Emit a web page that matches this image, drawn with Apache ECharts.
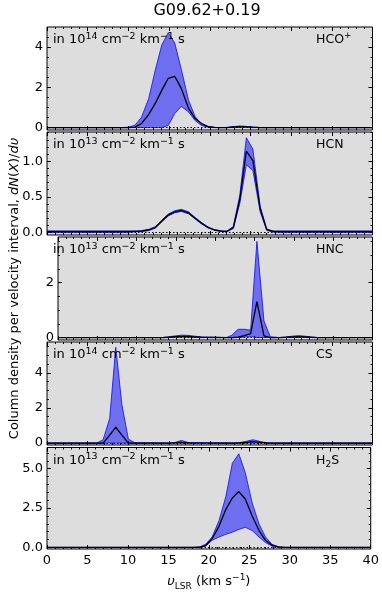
<!DOCTYPE html>
<html><head><meta charset="utf-8">
<script src="https://cdn.jsdelivr.net/npm/echarts@6/dist/echarts.min.js"></script>
<style>html,body{margin:0;padding:0;background:#fff}#c{width:382px;height:592px}</style>
</head><body><div id="c"></div>
<script>
// ---- data ----
const chartTitle = 'G09.62+0.19';
const molecules = ['HCO+', 'HCN', 'HNC', 'CS', 'H2S'];
const unitExp = ['14', '13', '13', '14', '13'];
const xTickLabels = [0, 5, 10, 15, 20, 25, 30, 35, 40];

const v1 = [0, 9.2, 10.0, 10.8, 11.6, 12.5, 13.3, 14.1, 14.9, 15.7, 16.5, 17.4, 18.2, 19.0, 19.8, 20.6, 21.4, 22.1, 22.9, 23.7, 24.5, 25.3, 26.2, 40];
const med1 = [0, 0, 0, 0.02, 0.2, 0.65, 1.2, 1.85, 2.45, 2.55, 1.95, 0.95, 0.45, 0.2, 0.05, 0.01, 0, 0, 0.03, 0.05, 0.04, 0.02, 0, 0];
const up1 = [0, 0, 0.02, 0.12, 0.5, 1.45, 2.85, 4.1, 4.72, 4.2, 2.9, 1.35, 0.55, 0.17, 0.04, 0.01, 0, 0.01, 0.05, 0.08, 0.06, 0.02, 0, 0];
const lo1 = [0, 0, 0, 0, 0, 0, 0, 0, 0.1, 0.7, 1.05, 0.78, 0.35, 0.1, 0.02, 0, 0, 0, 0.01, 0.02, 0.02, 0, 0, 0];

const v2 = [0, 10.0, 10.8, 11.6, 12.5, 13.3, 14.1, 14.9, 15.7, 16.5, 17.4, 18.2, 19.0, 19.8, 20.6, 21.4, 22.1, 22.9, 23.7, 24.5, 25.3, 26.2, 27.0, 27.8, 28.6, 40];
const med2 = [0.015, 0.015, 0.017, 0.02, 0.035, 0.07, 0.16, 0.245, 0.29, 0.31, 0.275, 0.2, 0.13, 0.07, 0.035, 0.02, 0.015, 0.07, 0.47, 1.14, 1.01, 0.33, 0.04, 0.015, 0.015, 0.015];
const up2 = [0.02, 0.02, 0.022, 0.027, 0.045, 0.082, 0.172, 0.258, 0.305, 0.325, 0.29, 0.212, 0.14, 0.078, 0.04, 0.024, 0.02, 0.085, 0.53, 1.33, 1.17, 0.37, 0.05, 0.02, 0.02, 0.02];
const lo2 = [0, 0, 0.01, 0.013, 0.027, 0.06, 0.148, 0.232, 0.277, 0.295, 0.262, 0.19, 0.12, 0.063, 0.03, 0.015, 0.01, 0.055, 0.41, 0.95, 0.87, 0.29, 0.03, 0.005, 0, 0];

const v3 = [0, 13.3, 14.1, 14.9, 15.7, 16.5, 17.4, 18.2, 21.4, 22.1, 22.9, 23.7, 24.5, 25.3, 26.2, 27.0, 28.2, 29.0, 29.8, 30.6, 31.4, 32.2, 33.0, 40];
const med3 = [0, 0, 0.01, 0.03, 0.04, 0.04, 0.025, 0.01, 0, 0, 0.01, 0.07, 0.14, 1.31, 0.06, 0, 0, 0.01, 0.025, 0.035, 0.025, 0.01, 0, 0];
const up3 = [0, 0, 0.03, 0.06, 0.085, 0.08, 0.05, 0.02, 0, 0.08, 0.3, 0.3, 0.27, 3.5, 0.6, 0.03, 0, 0.02, 0.05, 0.07, 0.05, 0.02, 0, 0];
const lo3 = [0, 0, 0, 0.005, 0.01, 0.01, 0.005, 0, 0, 0, 0.005, 0.02, 0.03, 0, 0, 0, 0, 0, 0.005, 0.01, 0.005, 0, 0, 0];

const v4 = [0, 6.1, 6.9, 7.7, 8.45, 9.2, 10.0, 10.8, 14.9, 15.7, 16.5, 17.4, 22.9, 23.7, 24.5, 25.3, 26.2, 27.0, 27.8, 40];
const med4 = [0, 0, 0, 0.45, 0.9, 0.45, 0, 0, 0, 0.01, 0.04, 0.01, 0, 0.01, 0.04, 0.08, 0.04, 0.01, 0, 0];
const up4 = [0, 0, 0.19, 1.4, 5.45, 2.2, 0.22, 0.02, 0, 0.03, 0.15, 0.03, 0, 0.03, 0.1, 0.19, 0.09, 0.02, 0, 0];
const lo4 = [0, 0, 0, 0, 0, 0, 0, 0, 0, 0, 0, 0, 0, 0, 0, 0, 0, 0, 0, 0];

const v5 = [0, 18.0, 18.8, 19.6, 20.4, 21.25, 22.1, 22.9, 23.7, 24.5, 25.35, 26.2, 27.0, 27.8, 28.6, 29.4, 40];
const med5 = [0, 0, 0.01, 0.12, 0.56, 1.34, 2.42, 3.14, 3.55, 3.08, 2.0, 1.07, 0.45, 0.14, 0.03, 0, 0];
const up5 = [0, 0, 0.02, 0.2, 0.66, 1.7, 3.24, 5.35, 5.95, 4.75, 2.83, 1.49, 0.66, 0.2, 0.04, 0, 0];
const lo5 = [0, 0, 0, 0.08, 0.45, 0.66, 0.83, 0.97, 1.14, 1.28, 1.07, 0.66, 0.31, 0.08, 0, 0, 0];

// y tick labels (major) and minor tick positions per panel
const yMajor1 = [0, 2, 4];           const yMinor1 = [0.5, 1, 1.5, 2.5, 3, 3.5, 4.5];
const yMajor2 = [0, 0.5, 1.0];       const yMinor2 = [0.1, 0.2, 0.3, 0.4, 0.6, 0.7, 0.8, 0.9, 1.1, 1.2, 1.3, 1.4];
const yMajor3 = [0, 2];              const yMinor3 = [0.5, 1, 1.5, 2.5, 3, 3.5];
const yMajor4 = [0, 2, 4];           const yMinor4 = [0.5, 1, 1.5, 2.5, 3, 3.5, 4.5, 5, 5.5];
const yMajor5 = [0, 2.5, 5.0];       const yMinor5 = [0.5, 1, 1.5, 2, 3, 3.5, 4, 4.5, 5.5, 6];
const yDecimals = [0, 1, 0, 0, 1];
const yMin = [-0.12, -0.035, -0.09, -0.11, -0.1];
const yMax = [5.0, 1.41, 3.66, 5.75, 6.35];

// ---- build ----
const panels = [
  {v: v1, med: med1, up: up1, lo: lo1, maj: yMajor1, min: yMinor1},
  {v: v2, med: med2, up: up2, lo: lo2, maj: yMajor2, min: yMinor2},
  {v: v3, med: med3, up: up3, lo: lo3, maj: yMajor3, min: yMinor3},
  {v: v4, med: med4, up: up4, lo: lo4, maj: yMajor4, min: yMinor4},
  {v: v5, med: med5, up: up5, lo: lo5, maj: yMajor5, min: yMinor5}
];
const FONT = 'DejaVu Sans';
const tops = [27, 132, 237, 342, 447.5];
const H = 103, LEFT = 47, W = 325.5;

const grids = [], xAxes = [], yAxes = [], series = [], graphics = [];
panels.forEach((p, i) => {
  grids.push({left: LEFT, width: W, top: tops[i], height: H, show: true,
    backgroundColor: '#dddddd', borderColor: '#000', borderWidth: 1, z: 0});
  ['bottom', 'top'].forEach(pos => {
    const isLabelled = (pos === 'bottom' && i === 4);
    const ax = {
      gridIndex: i, type: 'value', min: 0, max: 40, interval: 5, position: pos,
      axisLine: {show: false, onZero: false},
      axisTick: {show: true, inside: true, length: 4, lineStyle: {color: '#000', width: 1}},
      minorTick: {show: true, splitNumber: 5, length: 2, lineStyle: {color: '#000', width: 1}},
      splitLine: {show: false}, minorSplitLine: {show: false},
      axisLabel: {show: isLabelled, color: '#000', fontFamily: FONT, fontSize: 13, margin: 5,
        customValues: xTickLabels}
    };
    if (isLabelled) {
      ax.name = '{i|υ}{sb|LSR}{n| (km s}{sp|−1}{n|)}';
      ax.nameLocation = 'middle';
      ax.nameGap = 24;
      ax.nameTextStyle = {color: '#000', fontFamily: FONT, fontSize: 13,
        rich: {
          i: {fontFamily: FONT, fontSize: 13, fontStyle: 'italic', lineHeight: 18, verticalAlign: 'middle', color: '#000'},
          n: {fontFamily: FONT, fontSize: 13, lineHeight: 18, verticalAlign: 'middle', color: '#000'},
          sb: {fontFamily: FONT, fontSize: 9, lineHeight: 9, verticalAlign: 'bottom', color: '#000'},
          sp: {fontFamily: FONT, fontSize: 9, lineHeight: 9, verticalAlign: 'top', color: '#000'}
        }};
    }
    xAxes.push(ax);
  });
  const dec = yDecimals[i];
  ['left', 'right'].forEach(pos => {
    [['maj', 4], ['min', 2]].forEach(([kind, len]) => {
      const vals = p[kind];
      const ax = {
        gridIndex: i, type: 'value', min: yMin[i], max: yMax[i], position: pos,
        axisLine: {show: false, onZero: false},
        axisTick: {show: true, inside: true, length: len, customValues: vals, lineStyle: {color: '#000', width: 1}},
        splitLine: {show: false},
        axisLabel: {show: pos === 'left' && kind === 'maj', customValues: vals, color: '#000',
          fontFamily: FONT, fontSize: 13, margin: 4,
          formatter: v => Number(v).toFixed(dec)}
      };
      if (i === 2 && pos === 'left' && kind === 'maj') {
        ax.name = 'Column density per velocity interval, {i|dN}{n|(}{i|X}{n|)/}{i|dυ}';
        ax.nameLocation = 'middle';
        ax.nameGap = 37;
        ax.nameTextStyle = {color: '#000', fontFamily: FONT, fontSize: 13,
          rich: {
            i: {fontFamily: FONT, fontSize: 13, fontStyle: 'italic', color: '#000'},
            n: {fontFamily: FONT, fontSize: 13, color: '#000'}
          }};
      }
      yAxes.push(ax);
    });
  });
  const xi = 2 * i, yi = 4 * i;
  // shaded band between lower and upper, drawn through the axes' scales
  series.push({
    type: 'custom', xAxisIndex: xi, yAxisIndex: yi, silent: true, z: 2, clip: true,
    data: p.v.map((x, k) => [x, p.lo[k], p.up[k]]),
    encode: {x: 0, y: [1, 2]},
    renderItem: (params, api) => {
      if (params.dataIndex !== 0) return null;
      const pts = [];
      for (let k = 0; k < p.v.length; k++) pts.push(api.coord([p.v[k], p.up[k]]));
      for (let k = p.v.length - 1; k >= 0; k--) pts.push(api.coord([p.v[k], p.lo[k]]));
      return {type: 'polygon', shape: {points: pts},
        style: {fill: 'rgba(0,0,255,0.5)', stroke: 'rgba(0,0,255,0.75)', lineWidth: 1}};
    }
  });
  series.push({
    type: 'line', xAxisIndex: xi, yAxisIndex: yi, symbol: 'none',
    data: p.v.map((x, k) => [x, p.med[k]]),
    lineStyle: {color: '#000', width: 1.3}, z: 4, silent: true,
    markLine: {silent: true, symbol: 'none', label: {show: false},
      lineStyle: {type: [1.5, 2], color: '#000', width: 1}, data: [{yAxis: 0}], z: 3}
  });
  // in-panel texts
  graphics.push({
    type: 'text', x: 53, y: tops[i] + 13, z: 10,
    style: {
      text: '{a|in 10}{s|' + unitExp[i] + '}{a| cm}{s|−2}{a| km}{s|−1}{a| s}',
      align: 'left', verticalAlign: 'middle',
      rich: {
        a: {fontFamily: FONT, fontSize: 13, lineHeight: 17, verticalAlign: 'middle', fill: '#000'},
        s: {fontFamily: FONT, fontSize: 9.5, lineHeight: 9, verticalAlign: 'top', fill: '#000'}
      }
    }
  });
  const m = molecules[i];
  const mt = m === 'HCO+' ? '{a|HCO}{s|+}' : (m === 'H2S' ? '{a|H}{b|2}{a|S}' : '{a|' + m + '}');
  graphics.push({
    type: 'text', x: 316, y: tops[i] + 13, z: 10,
    style: {
      text: mt, align: 'left', verticalAlign: 'middle',
      rich: {
        a: {fontFamily: FONT, fontSize: 12.5, lineHeight: 17, verticalAlign: 'middle', fill: '#000'},
        s: {fontFamily: FONT, fontSize: 9, lineHeight: 9, verticalAlign: 'top', fill: '#000'},
        b: {fontFamily: FONT, fontSize: 9, lineHeight: 9, verticalAlign: 'bottom', fill: '#000'}
      }
    }
  });
});
graphics.push({
  type: 'text', x: 207, y: 11, z: 10,
  style: {text: chartTitle, fontFamily: FONT, fontSize: 16, fill: '#000', align: 'center', verticalAlign: 'middle'}
});

const chart = echarts.init(document.getElementById('c'), null, {renderer: 'canvas'});
chart.setOption({
  animation: false,
  backgroundColor: '#fff',
  grid: grids, xAxis: xAxes, yAxis: yAxes, series: series, graphic: graphics
});
</script></body></html>
